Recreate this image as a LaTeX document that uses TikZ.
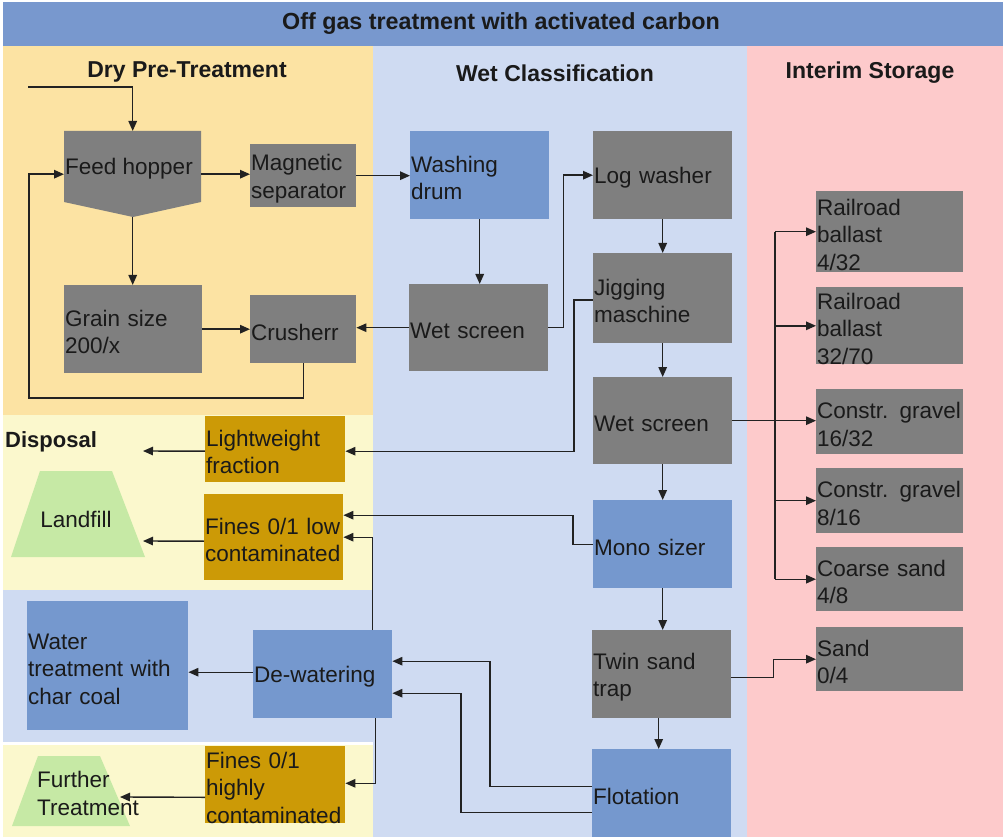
\documentclass[tikz,border=0pt]{standalone}
\usepackage{fontspec}
\setmainfont{Liberation Sans}
\usetikzlibrary{arrows.meta,calc}
\definecolor{banner}{HTML}{7898CE}
\definecolor{drybg}{HTML}{FCE3A3}
\definecolor{wetbg}{HTML}{CFDBF2}
\definecolor{pinkbg}{HTML}{FDCACB}
\definecolor{dispbg}{HTML}{FBF8CD}
\definecolor{grayb}{HTML}{7F7F7F}
\definecolor{blueb}{HTML}{7598CE}
\definecolor{brownb}{HTML}{CC9A06}
\definecolor{greenb}{HTML}{C6E9A5}
\definecolor{lineC}{HTML}{222222}
\definecolor{txtC}{HTML}{1A1A1A}
\tikzset{
  base/.style={anchor=north west, inner xsep=1pt, inner ysep=0pt, align=left,
    text=txtC, font=\fontsize{22.5}{27.5}\selectfont,
    execute at begin node={\rule{0pt}{22pt}}},
  gbox/.style={base, fill=grayb},
  bbox/.style={base, fill=blueb},
  obox/.style={base, fill=brownb},
  wd/.style={minimum width=#1, text width=#1-2pt},
  head/.style={font=\fontsize{23}{27}\selectfont\bfseries, text=txtC, inner sep=0pt},
  plain/.style={font=\fontsize{22.5}{27.5}\selectfont, text=txtC, inner sep=0pt, align=left},
  arr/.style={draw=lineC, line width=1.4pt, -{Triangle[length=10pt,width=8.5pt]}},
  ln/.style={draw=lineC, line width=1.4pt}
}
\begin{document}
\begin{tikzpicture}[x=1pt,y=-1pt]
\useasboundingbox (0,0) rectangle (1005,837);
\fill[white] (0,0) rectangle (1005,837);
% backgrounds
\fill[banner] (3,2) rectangle (1003,46);
\fill[drybg] (3,46) rectangle (373,415);
\fill[wetbg] (373,46) rectangle (747,837);
\fill[pinkbg] (747,46) rectangle (1003,837);
\fill[dispbg] (3,415) rectangle (373,590);
\fill[wetbg] (3,590) rectangle (373,742);
\fill[dispbg] (3,745) rectangle (373,837);
% headings
\node[head, font=\fontsize{23.3}{27}\selectfont\bfseries] (title) at (501,24) {Off gas treatment with activated carbon};
\node[head] (hdry) at (187,72) {Dry Pre-Treatment};
\node[head] (hwet) at (555,73) {Wet Classification};
\node[head] (hint) at (870,73) {Interim Storage};
\node[head, font=\fontsize{22}{26}\selectfont\bfseries, anchor=west] (hdisp) at (5,442) {Disposal};
% feed hopper
\fill[grayb] (64,131) -- (201,131) -- (201,202) -- (133,217) -- (64,202) -- cycle;
\node[anchor=north west, minimum width=137pt, minimum height=86pt, inner sep=0pt] (fh) at (64,131) {};
\node[plain, anchor=west] (fhtext) at (65,169) {Feed hopper};
% boxes
\node[gbox, wd=106pt, minimum height=63pt] (mag) at (250,144) {Magnetic\\separator};
\node[bbox, wd=139pt, minimum height=88pt] (wdr) at (410,131) {Washing\\drum};
\node[gbox, wd=139pt, minimum height=88pt] (log) at (593,131) {Log washer};
\node[gbox, wd=138pt, minimum height=88pt] (gs) at (64,285) {Grain size\\200/x};
\node[gbox, wd=106pt, minimum height=68pt] (cr) at (250,295) {Crusherr};
\node[gbox, wd=139pt, minimum height=87pt] (ws1) at (409,284) {Wet screen};
\node[gbox, wd=139pt, minimum height=90pt] (jig) at (593,253) {Jigging\\maschine};
\node[gbox, wd=139pt, minimum height=87pt] (ws2) at (593,377) {Wet screen};
\node[bbox, wd=139pt, minimum height=88pt] (mono) at (593,500) {Mono sizer};
\node[gbox, wd=139pt, minimum height=88pt] (tw) at (592,630) {Twin sand\\trap};
\node[bbox, wd=139pt, minimum height=88pt] (flo) at (592,749) {Flotation};
\node[gbox, wd=147pt, minimum height=81pt] (rb1) at (816,191) {Railroad\\ballast\\4/32};
\node[gbox, wd=147pt, minimum height=76pt] (rb2) at (816,287) {Railroad\\ballast\\32/70};
\node[gbox, wd=147pt, minimum height=65pt] (c1) at (816,389) {Constr. gravel\\16/32};
\node[gbox, wd=147pt, minimum height=65pt] (c2) at (816,468) {Constr. gravel\\8/16};
\node[gbox, wd=147pt, minimum height=64pt] (cs) at (816,547) {Coarse sand\\4/8};
\node[gbox, wd=147pt, minimum height=64pt] (sd) at (816,627) {Sand\\0/4};
\node[obox, wd=140pt, minimum height=66pt] (lw) at (205,416) {Lightweight\\fraction};
\node[obox, wd=139pt, minimum height=86pt] (fl) at (204,494) {Fines 0/1 low\\contaminated};
\node[bbox, wd=161pt, minimum height=129pt] (wt) at (27,601) {Water\\treatment with\\char coal};
\node[bbox, wd=139pt, minimum height=88pt] (dw) at (253,630) {De-watering};
\node[obox, wd=140pt, minimum height=77pt] (fhc) at (205,746) {Fines 0/1\\highly\\contaminated};
% landfill / further treatment
\fill[greenb] (11,557) -- (40,471) -- (112,471) -- (145,557) -- cycle;
\node[plain] (landfill) at (76,519) {Landfill};
\fill[greenb] (12,826) -- (38,756) -- (100,756) -- (130,826) -- cycle;
\node[plain, anchor=north west] (further) at (37,771) {Further\\Treatment};
% free-end coordinates
\coordinate (inp) at (28,87);
\coordinate (loopc) at (29,398);
\coordinate (dispA) at (143,451);
\coordinate (dispB) at (143,541);
\coordinate (furtherIn) at (120,797);
\coordinate (bus) at (775,0);
% connectors
\draw[arr] (inp) -| (fh.north);
\draw[arr] (cr.south) |- (loopc) |- (fh.west);
\draw[arr] (fh.east) -- (fh.east -| mag.west);
\draw[arr] (mag.east) -- (mag.east -| wdr.west);
\draw[arr] (fh.south) -- (fh.south |- gs.north);
\draw[arr] (gs.east) -- (gs.east -| cr.west);
\draw[arr] (ws1.west) -- (ws1.west -| cr.east);
\draw[arr] (wdr.south) -- (wdr.south |- ws1.north);
\draw[arr] (ws1.east) -- ++(15,0) |- (log.west);
\draw[arr] (log.south) -- (log.south |- jig.north);
\draw[arr] (jig.south) -- (jig.south |- ws2.north);
\draw[arr] ([yshift=-2pt]jig.west) -- ++(-19,0) |- ([yshift=-2pt]lw.east);
\draw[arr] (ws2.south) -- (ws2.south |- mono.north);
\draw[ln] (bus |- rb1.west) -- (bus |- cs.west);
\draw[arr] (ws2.east) -- (ws2.east -| c1.west);
\draw[arr] (bus |- rb1.west) -- (rb1.west);
\draw[arr] (bus |- rb2.west) -- (rb2.west);
\draw[arr] (bus |- c2.west) -- (c2.west);
\draw[arr] (bus |- cs.west) -- (cs.west);
\draw[arr] (mono.west) -- ++(-20,0) |- ([yshift=22pt]fl.east);
\draw[arr] (mono.south) -- (mono.south |- tw.north);
\draw[arr] ([yshift=-3pt]tw.east) -- ++(42,0) |- (sd.west);
\draw[arr] ([xshift=-3pt]tw.south) -- ([xshift=-3pt]tw.south |- flo.north);
\draw[arr] ([yshift=7pt]flo.west) -- ++(-102,0) |- ([yshift=13pt]dw.east);
\draw[arr] ([yshift=-19pt]flo.west) -- ++(-131,0) |- ([yshift=-19pt]dw.east);
\draw[arr] ([xshift=49.5pt]dw.north) |- (fl.east);
\draw[arr] ([yshift=2pt]dw.west) -- ([yshift=2pt]dw.west -| wt.east);
\draw[arr] ([xshift=52.5pt]dw.south) |- ([yshift=1.5pt]fhc.east);
\draw[arr] ([yshift=-12.5pt]fhc.west) -- (furtherIn);
\draw[arr] ([yshift=-2pt]lw.west) -- (dispA);
\draw[arr] ([yshift=-4pt]fl.west) -- (dispB);
\end{tikzpicture}
\end{document}
